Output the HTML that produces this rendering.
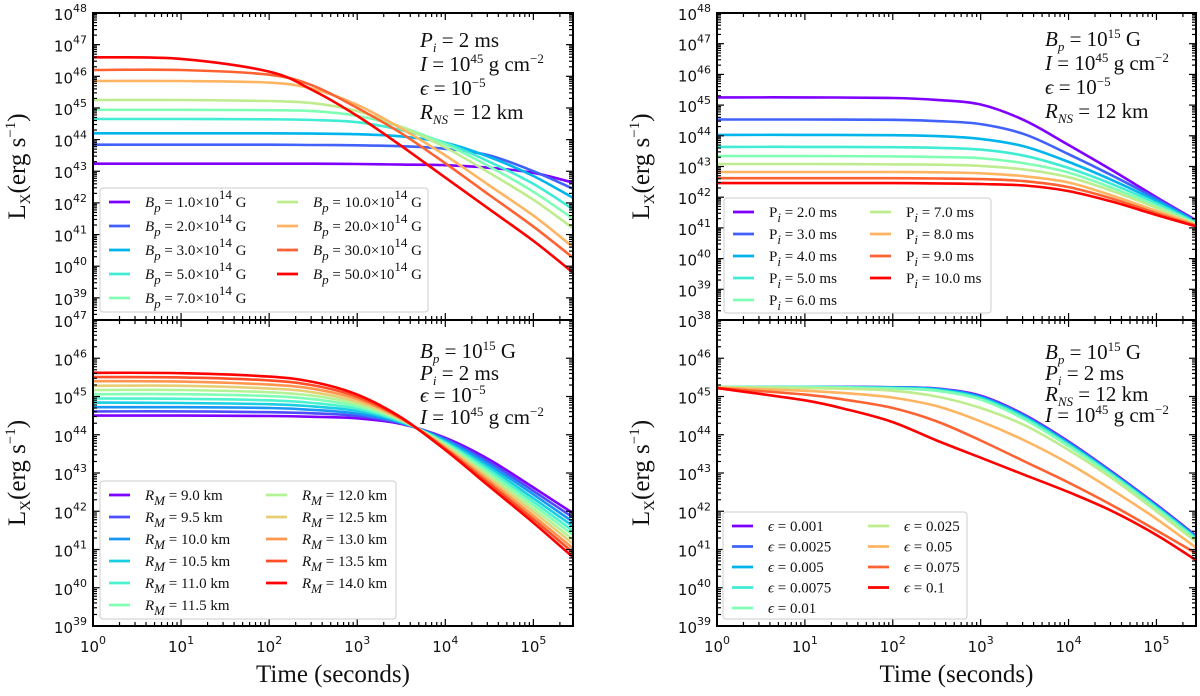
<!DOCTYPE html>
<html><head><meta charset="utf-8"><title>Magnetar X-ray luminosity</title>
<style>
html,body{margin:0;padding:0;background:#fff;}
svg{display:block;}
.tk{font-family:"DejaVu Sans","Liberation Sans",sans-serif;font-size:15px;fill:#111;}
.ser{font-family:"Liberation Serif","DejaVu Serif",serif;fill:#111;}
</style></head>
<body>
<svg id="fig" width="1200" height="696" viewBox="0 0 1200 696" xmlns="http://www.w3.org/2000/svg"></svg>
<script>
// ---------------- DATA ----------------
const tA = [0,1,2,2.5,3,3.5,4,4.5,5,5.45];
const bpLabels = ["1.0","2.0","3.0","5.0","7.0","10.0","20.0","30.0","50.0"];
const bp1  = [43.24,43.24,43.24,43.24,43.23,43.21,43.19,43.11,42.95,42.64];
const bp2  = [43.84,43.84,43.84,43.83,43.82,43.79,43.71,43.5,43.0,42.45];
const bp3  = [44.2,44.2,44.2,44.19,44.17,44.1,43.9,43.45,42.85,42.16];
const bp5  = [44.65,44.65,44.64,44.62,44.55,44.3,43.9,43.3,42.6,41.8];
const bp7  = [44.94,44.94,44.93,44.9,44.75,44.4,43.85,43.15,42.35,41.5];
const bp10 = [45.25,45.25,45.22,45.15,44.9,44.4,43.75,42.95,42.1,41.2];
const bp20 = [45.85,45.85,45.8,45.6,45.1,44.35,43.5,42.55,41.6,40.6];
const bp30 = [46.2,46.2,46.05,45.7,45.0,44.2,43.25,42.25,41.25,40.27];
const bp50 = [46.6,46.55,46.15,45.55,44.75,43.8,42.8,41.8,40.8,39.8];

const tB = [0,1,2,2.5,3,3.5,4,4.5,5,5.45];
const piLabels = ["2.0","3.0","4.0","5.0","6.0","7.0","8.0","9.0","10.0"];
const pi2  = [45.25,45.25,45.23,45.17,45.02,44.5,43.7,42.87,42.0,41.25];
const pi3  = [44.53,44.53,44.52,44.48,44.38,44.05,43.4,42.7,41.95,41.22];
const pi4  = [44.03,44.03,44.02,43.99,43.9,43.65,43.15,42.55,41.88,41.2];
const pi5  = [43.64,43.64,43.63,43.61,43.55,43.35,42.95,42.42,41.8,41.17];
const pi6  = [43.34,43.34,43.33,43.31,43.27,43.1,42.8,42.3,41.72,41.15];
const pi7  = [43.08,43.08,43.07,43.06,43.02,42.9,42.65,42.2,41.65,41.12];
const pi8  = [42.82,42.82,42.82,42.81,42.78,42.68,42.48,42.05,41.55,41.1];
const pi9  = [42.62,42.62,42.62,42.61,42.59,42.52,42.33,41.95,41.48,41.07];
const pi10 = [42.46,42.46,42.46,42.45,42.43,42.38,42.2,41.85,41.42,41.05];

const tC = [0,1,2,2.5,3,3.5,4,4.5,5,5.45];
const rmLabels = ["9.0","9.5","10.0","10.5","11.0","11.5","12.0","12.5","13.0","13.5","14.0"];
const rm90  = [44.5,44.5,44.49,44.47,44.43,44.28,43.92,43.35,42.62,41.95];
const rm95  = [44.61,44.61,44.59,44.56,44.49,44.3,43.89,43.28,42.53,41.84];
const rm100 = [44.72,44.72,44.7,44.65,44.55,44.31,43.86,43.21,42.44,41.72];
const rm105 = [44.84,44.83,44.8,44.74,44.62,44.33,43.82,43.14,42.34,41.61];
const rm110 = [44.95,44.94,44.9,44.83,44.68,44.35,43.79,43.07,42.25,41.49];
const rm115 = [45.06,45.06,45.01,44.93,44.74,44.37,43.76,43.0,42.16,41.38];
const rm120 = [45.17,45.17,45.11,45.02,44.8,44.38,43.73,42.93,42.07,41.26];
const rm125 = [45.28,45.28,45.21,45.11,44.86,44.4,43.7,42.86,41.98,41.15];
const rm130 = [45.4,45.39,45.31,45.2,44.93,44.42,43.66,42.79,41.88,41.03];
const rm135 = [45.51,45.5,45.42,45.29,44.99,44.43,43.63,42.72,41.79,40.92];
const rm140 = [45.62,45.61,45.52,45.38,45.05,44.45,43.6,42.65,41.7,40.8];

const tD = [0,1,1.5,2,2.5,3,3.5,4,4.5,5,5.45];
const epsLabels = ["0.001","0.0025","0.005","0.0075","0.01","0.025","0.05","0.075","0.1"];
const e001  = [45.25,45.25,45.25,45.24,45.21,45.02,44.52,43.82,43.02,42.17,41.36];
const e0025 = [45.25,45.25,45.25,45.24,45.2,45.0,44.5,43.8,43.0,42.15,41.34];
const e005  = [45.25,45.25,45.24,45.23,45.19,44.98,44.47,43.77,42.98,42.13,41.32];
const e0075 = [45.25,45.25,45.24,45.22,45.17,44.95,44.44,43.74,42.95,42.1,41.29];
const e01   = [45.25,45.24,45.23,45.21,45.15,44.92,44.4,43.7,42.92,42.07,41.26];
const e025  = [45.25,45.22,45.2,45.15,45.0,44.7,44.25,43.6,42.85,42.0,41.2];
const e05   = [45.23,45.15,45.08,44.97,44.75,44.35,43.85,43.25,42.55,41.8,41.05];
const e075  = [45.22,45.05,44.9,44.7,44.35,43.85,43.3,42.75,42.15,41.5,40.9];
const e1    = [45.22,44.9,44.65,44.33,43.85,43.4,42.95,42.5,42.0,41.38,40.72];

const xTickExp = [0,1,2,3,4,5];

// ---------------- DRAWING ----------------
const NS="http://www.w3.org/2000/svg";
const fig=document.getElementById('fig');
function mk(tag,attrs,parent){const e=document.createElementNS(NS,tag);for(const k in attrs)e.setAttribute(k,attrs[k]);(parent||fig).appendChild(e);return e;}
function rainbow(x){const r=Math.min(1,Math.abs(2*x-0.5)),g=Math.sin(Math.PI*x),b=Math.cos(Math.PI/2*x);
 return 'rgb('+Math.round(255*r)+','+Math.round(255*Math.max(0,g))+','+Math.round(255*Math.max(0,b))+')';}

function makePanel(p){
 const g=mk('g',{});
 
 
 const sx=v=>p.x0+(v-p.lx0)/(p.lx1-p.lx0)*(p.x1-p.x0);
 const sy=v=>p.y1-(v-p.ly0)/(p.ly1-p.ly0)*(p.y1-p.y0);
 p.series.forEach((s,i)=>{
   const pts=s.vals.map((v,j)=>[sx(p.t[j]),sy(v)]);
   let d='M'+pts[0][0].toFixed(1)+','+pts[0][1].toFixed(1);
   for(let j=0;j<pts.length-1;j++){
     const a=pts[Math.max(0,j-1)],b=pts[j],c=pts[j+1],e=pts[Math.min(pts.length-1,j+2)];
     const c1=[b[0]+(c[0]-a[0])/6,b[1]+(c[1]-a[1])/6],c2=[c[0]-(e[0]-b[0])/6,c[1]-(e[1]-b[1])/6];
     d+=' C'+c1[0].toFixed(1)+','+c1[1].toFixed(1)+' '+c2[0].toFixed(1)+','+c2[1].toFixed(1)+' '+c[0].toFixed(1)+','+c[1].toFixed(1);
   }
   const path=mk('path',{d:d,fill:'none',stroke:rainbow(i/(p.series.length-1)),'stroke-width':2.6,'stroke-linejoin':'round'},g);
   
   
 });
 const fr=mk('rect',{x:p.x0,y:p.y0,width:p.x1-p.x0,height:p.y1-p.y0,fill:'none',stroke:'#000','stroke-width':2},g);
 
 
 for(let d=0;d<=5;d++){for(let k=1;k<=9;k++){const lv=d+Math.log10(k);if(lv>p.lx1)continue;const x=sx(lv);const L=k===1?7:4;
   mk('line',{x1:x,y1:p.y1,x2:x,y2:p.y1-L,stroke:'#000','stroke-width':1.2},g);
   mk('line',{x1:x,y1:p.y0,x2:x,y2:p.y0+L,stroke:'#000','stroke-width':1.2},g);}}
 for(let d=Math.floor(p.ly0);d<=p.ly1;d++){for(let k=1;k<=9;k++){const lv=d+Math.log10(k);if(lv<p.ly0-0.001||lv>p.ly1+0.001)continue;const y=sy(lv);const L=k===1?7:4;
   mk('line',{x1:p.x0,y1:y,x2:p.x0+L,y2:y,stroke:'#000','stroke-width':1.2},g);
   mk('line',{x1:p.x1,y1:y,x2:p.x1-L,y2:y,stroke:'#000','stroke-width':1.2},g);}}
 p.yLabels.forEach(e=>{const y=sy(e);
   const t=mk('text',{x:p.x0-6,y:y+7,'text-anchor':'end',class:'tk'},g);
   
   
   t.appendChild(document.createTextNode('10'));
   const s=mk('tspan',{'baseline-shift':'8','font-size':'11px'},t);s.textContent=String(e);});
 if(p.xlabels){xTickExp.forEach(e=>{const x=sx(e);
   const t=mk('text',{x:x,y:p.y1+26,'text-anchor':'middle',class:'tk'},g);
   
   
   t.appendChild(document.createTextNode('10'));
   const s=mk('tspan',{'baseline-shift':'8','font-size':'11px'},t);s.textContent=String(e);});
   const tl=mk('text',{x:(p.x0+p.x1)/2,y:p.y1+56,'text-anchor':'middle',class:'ser','font-size':'25px'},g);
   
   
   tl.textContent='Time (seconds)';}
 const cy=(p.y0+p.y1)/2, cx=p.x0-68;
 const yt=mk('text',{x:cx,y:cy,transform:'rotate(-90 '+cx+' '+cy+')','text-anchor':'middle',class:'ser','font-size':'25px'},g);
 
 
 yt.appendChild(document.createTextNode('L'));
 const sb=mk('tspan',{'baseline-shift':'-5','font-size':'15px'},yt);sb.textContent='X';
 const r1=mk('tspan',{},yt);r1.textContent='(erg s';
 const sp=mk('tspan',{'baseline-shift':'10','font-size':'15px'},yt);sp.textContent='\u22121';
 const r2=mk('tspan',{},yt);r2.textContent=')';
 const L=p.legend;
 const lb=mk('rect',{x:L.x,y:L.y,width:L.w,height:L.h,rx:3,fill:'#fff',stroke:'#ccc','stroke-width':1},g);
 
 
 p.series.forEach((s,i)=>{const col=i<L.perCol?0:1,row=i%L.perCol;
   const hx=L.x+9+col*L.colW, y=L.y+14+row*L.rowH;
   const ln=mk('line',{x1:hx,y1:y,x2:hx+21,y2:y,stroke:rainbow(i/(p.series.length-1)),'stroke-width':2.8},g);
   
   
   const t=mk('text',{x:hx+36,y:y+5,class:'ser','font-size':'15px'},g);
   
   
   L.fmt(t,s.label);});
 p.notes.forEach((n,i)=>{const t=mk('text',{x:p.nx,y:p.ny+i*p.nh,class:'ser','font-size':'21px'},g);
   
   
   n(t);});
}
function it(t,s){const e=mk('tspan',{'font-style':'italic'},t);e.textContent=s;return e;}
function tx(t,s){const e=mk('tspan',{},t);e.textContent=s;return e;}
function sup(t,s){const e=mk('tspan',{'baseline-shift':'8','font-size':'13px'},t);e.textContent=s;return e;}
function sub(t,s){const e=mk('tspan',{'baseline-shift':'-5','font-size':'13px','font-style':'italic'},t);e.textContent=s;return e;}

const nBp=t=>{it(t,'P');sub(t,'i');tx(t,' = 2 ms');};
const nI=t=>{it(t,'I');tx(t,' = 10');sup(t,'45');tx(t,' g cm');sup(t,'\u22122');};
const nE=t=>{it(t,'\u03f5');tx(t,' = 10');sup(t,'\u22125');};
const nR=t=>{it(t,'R');sub(t,'NS');tx(t,' = 12 km');};
const nB=t=>{it(t,'B');sub(t,'p');tx(t,' = 10');sup(t,'15');tx(t,' G');};

makePanel({key:'bp-panel',name:'panel-magnetic-field',x0:93,x1:573,y0:13,y1:320,lx0:0,lx1:5.45,ly0:38.3,ly1:48,t:tA,
 series:[bp1,bp2,bp3,bp5,bp7,bp10,bp20,bp30,bp50].map((v,i)=>({vals:v,label:bpLabels[i]})),
 yLabels:[39,40,41,42,43,44,45,46,47,48],xlabels:false,
 legend:{x:100,y:188,w:328,h:124,perCol:5,colW:168,rowH:24,fmt:(t,l)=>{it(t,'B');sub(t,'p');tx(t,' = '+l+'\u00d710');sup(t,'14');tx(t,' G');}},
 notes:[nBp,nI,nE,nR],nx:420,ny:47,nh:24});

makePanel({key:'pi-panel',name:'panel-initial-period',x0:717,x1:1196,y0:13,y1:320,lx0:0,lx1:5.45,ly0:38,ly1:48,t:tB,
 series:[pi2,pi3,pi4,pi5,pi6,pi7,pi8,pi9,pi10].map((v,i)=>({vals:v,label:piLabels[i]})),
 yLabels:[38,39,40,41,42,43,44,45,46,47,48],xlabels:false,
 legend:{x:724,y:198,w:267,h:115,perCol:5,colW:137,rowH:22,fmt:(t,l)=>{tx(t,'P');sub(t,'i');tx(t,' = '+l+' ms');}},
 notes:[nB,nI,nE,nR],nx:1045,ny:46,nh:24});

makePanel({key:'rm-panel',name:'panel-magnetospheric-radius',x0:93,x1:573,y0:320,y1:626,lx0:0,lx1:5.45,ly0:39,ly1:47,t:tC,
 series:[rm90,rm95,rm100,rm105,rm110,rm115,rm120,rm125,rm130,rm135,rm140].map((v,i)=>({vals:v,label:rmLabels[i]})),
 yLabels:[39,40,41,42,43,44,45,46,47],xlabels:true,
 legend:{x:100,y:481,w:296,h:138,perCol:6,colW:157,rowH:22,fmt:(t,l)=>{it(t,'R');sub(t,'M');tx(t,' = '+l+' km');}},
 notes:[nB,nBp,nE,nI],nx:420,ny:358,nh:22});

makePanel({key:'eps-panel',name:'panel-efficiency',x0:717,x1:1196,y0:320,y1:626,lx0:0,lx1:5.45,ly0:39,ly1:47,t:tD,
 series:[e001,e0025,e005,e0075,e01,e025,e05,e075,e1].map((v,i)=>({vals:v,label:epsLabels[i]})),
 yLabels:[39,40,41,42,43,44,45,46],xlabels:true,
 legend:{x:723,y:512,w:244,h:107,perCol:5,colW:136,rowH:20.5,fmt:(t,l)=>{it(t,'\u03f5');tx(t,' = '+l);}},
 notes:[nB,nBp,nR,nI],nx:1045,ny:359,nh:21});
</script>
</body></html>
